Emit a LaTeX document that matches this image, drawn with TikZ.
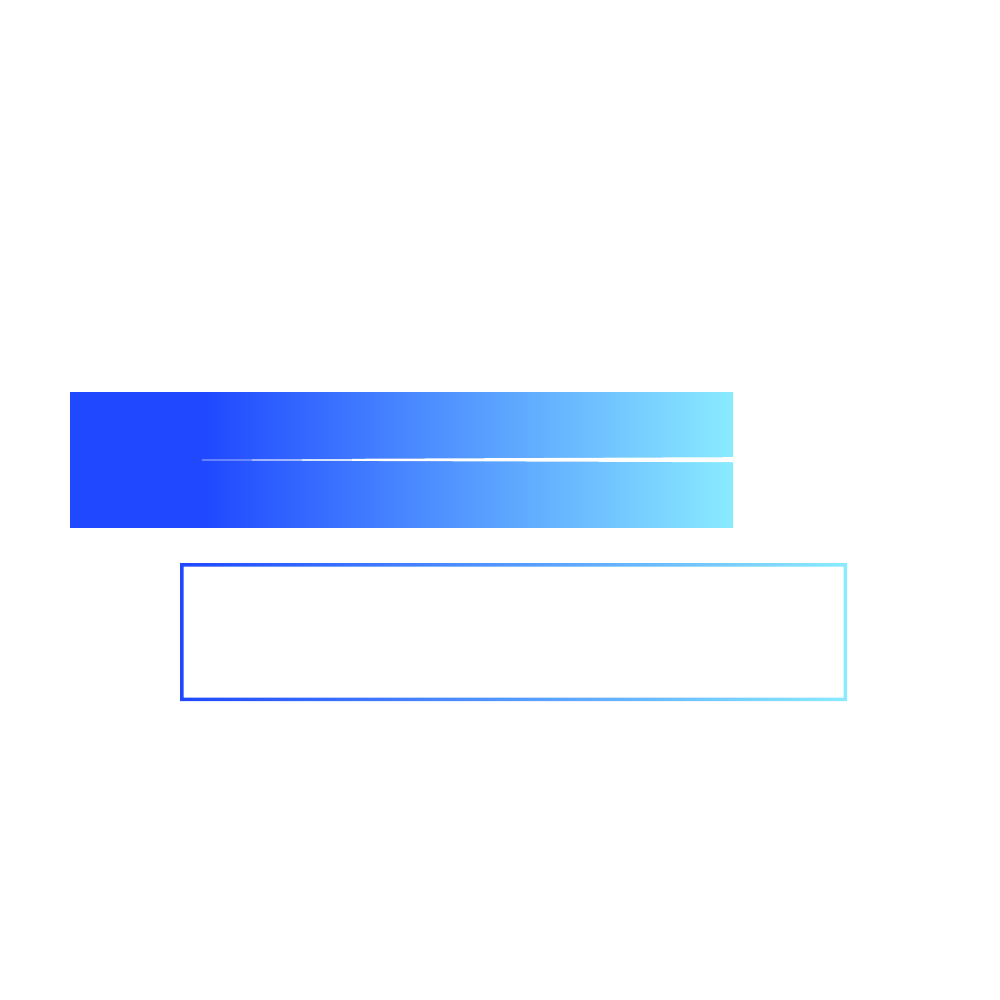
\documentclass[tikz,border=0pt]{standalone}
\usepackage{tikz}

\definecolor{barblue}{RGB}{31,72,255}
\definecolor{barcyan}{RGB}{138,235,255}
\pgfdeclarehorizontalshading{barshade}{100bp}{color(0bp)=(barblue); color(34.95bp)=(barblue); color(75bp)=(barcyan); color(100bp)=(barcyan)}

\begin{document}
\begin{tikzpicture}[x=0.01cm, y=-0.01cm]
    \useasboundingbox (0,0) rectangle (1000,1000);

    % filled bar
    \shade[shading=barshade] (70,392) rectangle (733,527);

    % white slit, fading in from the left
    \fill[white, opacity=0.3] (202,459.3) rectangle (252,460.7);
    \fill[white, opacity=0.55] (252,459.2) rectangle (302,460.8);
    \fill[white, opacity=0.8] (302,459.0) rectangle (352,460.9);
    \fill[white] (352,458.8) -- (733,457.2) -- (733,462.2) -- (352,460.9) -- cycle;

    % outlined bar
    \shade[left color=barblue, right color=barcyan, even odd rule]
        (180,563) rectangle (847,701)
        (183.5,566.5) rectangle (843.5,697.5);
\end{tikzpicture}
\end{document}
